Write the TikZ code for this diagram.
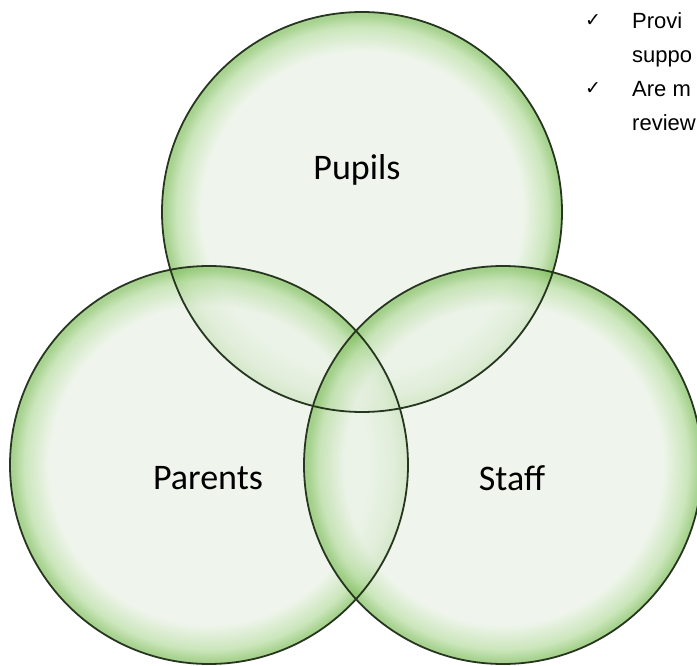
\documentclass[tikz,border=0pt]{standalone}
\usepackage{fontspec}
\setmainfont{Carlito}
\newfontfamily\arialf{Liberation Sans}
\newfontfamily\symf{DejaVu Sans}
\definecolor{pale}{HTML}{EAF2E6}
\definecolor{band}{HTML}{B8DDA2}
\definecolor{bandd}{HTML}{86C265}
\definecolor{rim}{HTML}{26361F}
\pgfdeclareradialshading{bubble}{\pgfpoint{0bp}{0bp}}{color(0bp)=(pale); color(20bp)=(pale); color(23.2bp)=(band); color(24.6bp)=(bandd); color(25bp)=(bandd); color(50bp)=(bandd)}
\begin{document}
\begin{tikzpicture}[x=1pt,y=-1pt,
  bubblebg/.style={circle, inner sep=0pt, minimum size=#1, shading=bubble, opacity=0.72},
  rimline/.style={circle, inner sep=0pt, minimum size=#1, draw=rim, line width=1.8pt},
  lbl/.style={font=\fontsize{36}{40}\selectfont, text=black, inner sep=0pt},
  bul/.style={font=\arialf\fontsize{22}{26}\selectfont, anchor=base west, inner sep=0pt},
  tick/.style={font=\symf\fontsize{19}{22}\selectfont, anchor=base west, inner sep=0pt}]
\useasboundingbox (0,0) rectangle (697,666);
\clip (0,0) rectangle (697,666);
\fill[white] (0,0) rectangle (697,666);
% bubbles
\node[bubblebg=400pt] (pupilsbg) at (362,212) {};
\node[bubblebg=398pt] (parentsbg) at (209,465) {};
\node[bubblebg=398pt] (staffbg) at (503,465) {};
\node[rimline=400pt] (pupils) at (362,212) {};
\node[rimline=398pt] (parents) at (209,465) {};
\node[rimline=398pt] (staff) at (503,465) {};
% labels
\node[lbl] (pupilslbl) at (357,170) {Pupils};
\node[lbl] (parentslbl) at (208,478) {Parents};
\node[lbl] (stafflbl) at (512,478) {Staff};
% bullet text
\node[tick] (tick1) at (585,27) {✓};
\node[bul] (b1a) at (632,29) {Provi};
\node[bul] (b1b) at (632,63) {suppo};
\node[tick] (tick2) at (585,95) {✓};
\node[bul] (b2a) at (632,97) {Are m};
\node[bul] (b2b) at (632,131) {review};
\end{tikzpicture}
\end{document}
